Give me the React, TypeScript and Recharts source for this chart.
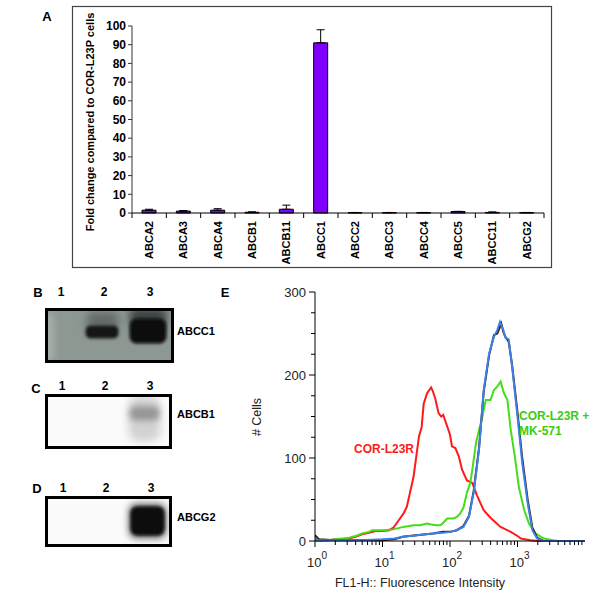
import React from 'react';
import { BarChart, Bar, XAxis, YAxis, ErrorBar, LineChart, Line } from 'recharts';

const FONT = '"Liberation Sans", Arial, sans-serif';

// Panel A - qPCR fold change
const genes = ['ABCA2', 'ABCA3', 'ABCA4', 'ABCB1', 'ABCB11', 'ABCC1', 'ABCC2', 'ABCC3', 'ABCC4', 'ABCC5', 'ABCC11', 'ABCG2'];
const foldChange = [1.5, 1.0, 1.5, 0.4, 2.0, 91, 0.2, 0.2, 0.2, 0.8, 0.3, 0.2];
const foldError = [0.5, 0.3, 0.8, 0.2, 2.2, 7, 0.1, 0.1, 0.1, 0.1, 0.3, 0.1];
const foldTicks = [0, 10, 20, 30, 40, 50, 60, 70, 80, 90, 100];

// Panel E - flow cytometry histograms (x = FL1-H intensity, y = # cells)
const corL23R = [
  { x: 1, y: 3 }, { x: 1.2, y: 1 }, { x: 1.6, y: 1 }, { x: 2, y: 2 }, { x: 2.5, y: 2 }, { x: 3.2, y: 3 },
  { x: 4, y: 5 }, { x: 5, y: 8 }, { x: 6.3, y: 10 }, { x: 7.9, y: 12 }, { x: 10, y: 12 }, { x: 12.6, y: 13 },
  { x: 14.5, y: 16 }, { x: 17.4, y: 25 }, { x: 20.4, y: 33 }, { x: 22.9, y: 41 }, { x: 28.8, y: 77 },
  { x: 34.7, y: 126 }, { x: 38, y: 137 }, { x: 40.7, y: 165 }, { x: 45.7, y: 178 }, { x: 52.5, y: 185 },
  { x: 56, y: 180 }, { x: 60.3, y: 172 }, { x: 67.6, y: 154 }, { x: 74, y: 150 }, { x: 79.4, y: 152 },
  { x: 89.1, y: 140 }, { x: 100, y: 128 }, { x: 107, y: 114 }, { x: 120, y: 112 }, { x: 135, y: 102 },
  { x: 151, y: 86 }, { x: 178, y: 73 }, { x: 214, y: 70 }, { x: 251, y: 55 }, { x: 316, y: 37 },
  { x: 398, y: 28 }, { x: 562, y: 17 }, { x: 794, y: 11 }, { x: 1000, y: 6 }, { x: 1122, y: 3 },
  { x: 1549, y: 1 }, { x: 2000, y: 0 }, { x: 10000, y: 0 },
];
const corL23RMK571 = [
  { x: 1, y: 0 }, { x: 1.6, y: 1 }, { x: 2, y: 2 }, { x: 3.2, y: 4 }, { x: 4, y: 6 }, { x: 5, y: 9 },
  { x: 6.3, y: 11 }, { x: 7.1, y: 13 }, { x: 10, y: 13 }, { x: 14.5, y: 14 }, { x: 20.4, y: 17 },
  { x: 28.8, y: 19 }, { x: 36, y: 19 }, { x: 45.7, y: 21 }, { x: 52.5, y: 20 }, { x: 63, y: 19 },
  { x: 72, y: 19 }, { x: 79.4, y: 22 }, { x: 91, y: 27 }, { x: 112, y: 27 }, { x: 126, y: 29 },
  { x: 141, y: 33 }, { x: 158, y: 40 }, { x: 178, y: 58 }, { x: 200, y: 70 }, { x: 214, y: 86 },
  { x: 245, y: 120 }, { x: 302, y: 150 }, { x: 339, y: 170 }, { x: 398, y: 170 }, { x: 447, y: 182 },
  { x: 501, y: 186 }, { x: 562, y: 192 }, { x: 631, y: 178 }, { x: 708, y: 170 }, { x: 794, y: 134 },
  { x: 912, y: 102 }, { x: 1047, y: 65 }, { x: 1259, y: 37 }, { x: 1479, y: 21 }, { x: 1862, y: 9 },
  { x: 2455, y: 3 }, { x: 3311, y: 1 }, { x: 4000, y: 0 }, { x: 10000, y: 0 },
];
const controlA = [
  { x: 1, y: 7 }, { x: 1.15, y: 2 }, { x: 2, y: 1 }, { x: 10, y: 1 }, { x: 15, y: 2 }, { x: 20, y: 5 },
  { x: 32, y: 7 }, { x: 56, y: 9 }, { x: 79, y: 11 }, { x: 100, y: 11 }, { x: 126, y: 13 }, { x: 158, y: 18 },
  { x: 191, y: 30 }, { x: 224, y: 60 }, { x: 269, y: 112 }, { x: 316, y: 180 }, { x: 380, y: 224 },
  { x: 447, y: 248 }, { x: 501, y: 250 }, { x: 537, y: 256 }, { x: 575, y: 262 }, { x: 617, y: 252 },
  { x: 661, y: 246 }, { x: 741, y: 240 }, { x: 832, y: 212 }, { x: 1000, y: 155 }, { x: 1175, y: 100 },
  { x: 1413, y: 50 }, { x: 1660, y: 16 }, { x: 1950, y: 4 }, { x: 2400, y: 0 }, { x: 10000, y: 0 },
];
const controlB = [
  { x: 1, y: 4 }, { x: 1.1, y: 1 }, { x: 2, y: 1 }, { x: 5, y: 1 }, { x: 10, y: 2 }, { x: 15, y: 3 },
  { x: 20, y: 5 }, { x: 32, y: 7 }, { x: 56, y: 9 }, { x: 79, y: 10 }, { x: 100, y: 11 }, { x: 126, y: 13 },
  { x: 158, y: 17 }, { x: 191, y: 29 }, { x: 224, y: 58 }, { x: 269, y: 110 }, { x: 316, y: 182 },
  { x: 380, y: 226 }, { x: 447, y: 246 }, { x: 501, y: 254 }, { x: 550, y: 264 }, { x: 617, y: 254 },
  { x: 661, y: 245 }, { x: 741, y: 243 }, { x: 832, y: 210 }, { x: 1000, y: 150 }, { x: 1175, y: 94 },
  { x: 1413, y: 46 }, { x: 1660, y: 13 }, { x: 1950, y: 3 }, { x: 2400, y: 0 }, { x: 10000, y: 0 },
];
const countTicks = [0, 25, 50, 75, 100, 125, 150, 175, 200, 225, 250, 275, 300];
const countLabels = [0, 100, 200, 300];
const intensityTicks = [
  1, 2, 3, 4, 5, 6, 7, 8, 9,
  10, 20, 30, 40, 50, 60, 70, 80, 90,
  100, 200, 300, 400, 500, 600, 700, 800, 900,
  1000, 2000, 3000, 4000, 5000, 6000, 7000, 8000, 9000,
];
const decadeTicks = [1, 10, 100, 1000];
const decadeExponents = ['0', '1', '2', '3'];

// plot A geometry
const A_PLOT_W = 412;
const BAND = A_PLOT_W / genes.length;

function GeneTick(props: any) {
  const { x, y, payload, index } = props;
  const ty = y + 8;
  return (
    <g>
      <line x1={x - BAND / 2} x2={x - BAND / 2} y1={y} y2={y + 5} stroke="#000" />
      {index === genes.length - 1 && <line x1={x + BAND / 2} x2={x + BAND / 2} y1={y} y2={y + 5} stroke="#000" />}
      <text
        x={x}
        y={ty}
        dy="0.36em"
        transform={`rotate(-90, ${x}, ${ty})`}
        textAnchor="end"
        fontFamily={FONT}
        fontWeight="bold"
        fontSize={11}
        fill="#000"
      >
        {payload.value}
      </text>
    </g>
  );
}

function CountTick(props: any) {
  const { x, y, payload } = props;
  const major = countLabels.includes(payload.value);
  return (
    <g>
      <line x1={x - (major ? 6 : 4)} x2={x} y1={y} y2={y} stroke="#000" />
      {major && (
        <text x={x - 9} y={y} dy="0.36em" textAnchor="end" fontFamily={FONT} fontSize={13} fill="#222">
          {payload.value}
        </text>
      )}
    </g>
  );
}

function LogTick(props: any) {
  const { x, y, payload } = props;
  const di = decadeTicks.indexOf(payload.value);
  const major = di >= 0;
  return (
    <g>
      <line x1={x} x2={x} y1={y} y2={y + (major ? 6 : 4)} stroke="#000" />
      {major && (
        <text x={x - 8} y={y + 26} fontFamily={FONT} fontSize={13} fill="#222">
          10
          <tspan dy={-8} fontSize={10}>{decadeExponents[di]}</tspan>
        </text>
      )}
    </g>
  );
}

function Blot({ id, left, top, width, height, bg, bands }: any) {
  return (
    <g transform={`translate(${left}, ${top})`}>
      <defs>
        {bands.map((b: any, i: number) => (
          <filter key={i} id={`${id}-f${i}`} x="-50%" y="-50%" width="200%" height="200%">
            <feGaussianBlur stdDeviation={b.blur} />
          </filter>
        ))}
        <clipPath id={`${id}-clip`}>
          <rect x={0} y={0} width={width} height={height} />
        </clipPath>
      </defs>
      <rect x={0} y={0} width={width} height={height} fill={bg} />
      <g clipPath={`url(#${id}-clip)`}>
        {bands.map((b: any, i: number) => (
          <rect key={i} x={b.x} y={b.y} width={b.w} height={b.h} rx={b.r} ry={b.r} fill={b.color} filter={`url(#${id}-f${i})`} />
        ))}
      </g>
      <rect x={0} y={0} width={width} height={height} fill="none" stroke="#000" strokeWidth={3} />
    </g>
  );
}

const blotB = [
  { x: -4, y: 4, w: 12, h: 48, r: 6, color: '#a5ada9', blur: 3 },
  { x: 40, y: 2, w: 32, h: 20, r: 6, color: '#646c68', blur: 4 },
  { x: 39, y: 16, w: 33, h: 13, r: 5, color: '#141414', blur: 1.8 },
  { x: 83, y: -2, w: 37, h: 18, r: 6, color: '#3c4244', blur: 4 },
  { x: 83, y: 9, w: 37, h: 25, r: 7, color: '#080808', blur: 1.8 },
];
const blotC = [
  { x: 82, y: 0, w: 32, h: 46, r: 10, color: '#d2d2d2', blur: 4 },
  { x: 83, y: 11, w: 30, h: 14, r: 6, color: '#959595', blur: 3 },
];
const blotD = [
  { x: 82, y: 6, w: 38, h: 35, r: 8, color: '#6a6a6a', blur: 3.5 },
  { x: 84, y: 9, w: 34, h: 29, r: 7, color: '#070707', blur: 1.8 },
];

const labelStyle = { fontFamily: FONT, fontWeight: 'bold' as const };

export default function App() {
  const barData = genes.map((g, i) => ({ gene: g, fold: foldChange[i], err: [0, foldError[i]] }));

  return (
    <div style={{ position: 'absolute', left: 0, top: 0, width: 600, height: 609, background: '#fff' }}>
      <svg width={600} height={609} style={{ position: 'absolute', left: 0, top: 0 }}>
        {/* panel A frame */}
        <rect x={72.5} y={6.5} width={479} height={261} fill="none" stroke="#444" strokeWidth={1.2} />
        <text x={47} y={16} dominantBaseline="central" textAnchor="middle" fontSize={13} {...labelStyle}>A</text>
        <text
          x={90}
          y={122}
          dominantBaseline="central"
          textAnchor="middle"
          fontSize={11}
          transform="rotate(-90, 90, 122)"
          {...labelStyle}
        >
          Fold change compared to COR-L23P cells
        </text>

        {/* blots */}
        <Blot id="b" left={46.5} top={309.5} width={126} height={52} bg="#8e9893" bands={blotB} />
        <Blot id="c" left={46.5} top={395.5} width={124} height={52} bg="#fbfbfb" bands={blotC} />
        <Blot id="d" left={46.5} top={497.5} width={124} height={48} bg="#fbfbfb" bands={blotD} />

        {[
          ['B', 38, 292], ['C', 36, 388], ['D', 37, 488], ['E', 225, 292],
        ].map(([t, x, y]) => (
          <text key={t as string} x={x as number} y={y as number} dominantBaseline="central" textAnchor="middle" fontSize={13} {...labelStyle}>
            {t}
          </text>
        ))}
        {[
          ['1', 61, 292], ['2', 104, 292], ['3', 150, 292],
          ['1', 62, 386], ['2', 105, 386], ['3', 150, 386],
          ['1', 63, 488], ['2', 106, 488], ['3', 151, 488],
        ].map(([t, x, y], i) => (
          <text key={i} x={x as number} y={y as number} dominantBaseline="central" textAnchor="middle" fontSize={12} {...labelStyle}>
            {t}
          </text>
        ))}
        <text x={177} y={331} dominantBaseline="central" fontSize={11} {...labelStyle}>ABCC1</text>
        <text x={177} y={414} dominantBaseline="central" fontSize={11} {...labelStyle}>ABCB1</text>
        <text x={177} y={517} dominantBaseline="central" fontSize={11} {...labelStyle}>ABCG2</text>

        {/* panel E axis titles */}
        <text
          x={257}
          y={417}
          dominantBaseline="central"
          textAnchor="middle"
          fontSize={12.5}
          fontFamily={FONT}
          fill="#222"
          transform="rotate(-90, 257, 417)"
        >
          # Cells
        </text>
        <text x={420} y={583} dominantBaseline="central" textAnchor="middle" fontSize={12.5} fontFamily={FONT} fill="#222">
          FL1-H:: Fluorescence Intensity
        </text>
      </svg>

      <div style={{ position: 'absolute', left: 72, top: 6 }}>
        <BarChart width={480} height={262} data={barData} margin={{ top: 20, right: 8, bottom: 5, left: 20 }}>
          <XAxis
            dataKey="gene"
            interval={0}
            height={50}
            tickSize={0}
            tickMargin={0}
            tickLine={false}
            axisLine={{ stroke: '#000' }}
            tick={(p: any) => <GeneTick {...p} />}
          />
          <XAxis xAxisId="top" orientation="top" dataKey="gene" height={0} tick={false} tickLine={false} axisLine={{ stroke: '#555' }} />
          <YAxis
            domain={[0, 100]}
            ticks={foldTicks}
            interval={0}
            width={40}
            tickSize={4}
            tickMargin={2}
            axisLine={{ stroke: '#333' }}
            tickLine={{ stroke: '#333' }}
            tick={{ fill: '#000', fontSize: 12, fontWeight: 'bold', fontFamily: FONT }}
          />
          <YAxis yAxisId="right" orientation="right" domain={[0, 100]} width={0} tick={false} tickLine={false} axisLine={{ stroke: '#555' }} />
          <Bar dataKey="fold" fill="#8000ff" stroke="#000" strokeWidth={1} barSize={14} isAnimationActive={false}>
            <ErrorBar dataKey="err" width={4} stroke="#000" strokeWidth={1} direction="y" />
          </Bar>
        </BarChart>
      </div>

      <div style={{ position: 'absolute', left: 255, top: 280 }}>
        <LineChart width={340} height={320} margin={{ top: 12, right: 10, bottom: 29, left: 0 }}>
          <XAxis
            type="number"
            dataKey="x"
            scale="log"
            domain={[1, 10000]}
            allowDataOverflow
            ticks={intensityTicks}
            interval={0}
            height={30}
            tickSize={0}
            tickMargin={0}
            tickLine={false}
            axisLine={{ stroke: '#000' }}
            tick={(p: any) => <LogTick {...p} />}
          />
          <XAxis
            xAxisId="top"
            orientation="top"
            type="number"
            dataKey="x"
            scale="log"
            domain={[1, 10000]}
            allowDataOverflow
            height={0}
            tick={false}
            tickLine={false}
            axisLine={{ stroke: '#000' }}
          />
          <YAxis
            type="number"
            domain={[0, 300]}
            ticks={countTicks}
            interval={0}
            width={60}
            tickSize={0}
            tickMargin={0}
            tickLine={false}
            axisLine={{ stroke: '#000' }}
            tick={(p: any) => <CountTick {...p} />}
          />
          <YAxis yAxisId="right" orientation="right" domain={[0, 300]} width={0} tick={false} tickLine={false} axisLine={{ stroke: '#000' }} />
          <Line data={corL23R} dataKey="y" stroke="#ff1a1a" strokeWidth={2} dot={false} isAnimationActive={false} />
          <Line data={corL23RMK571} dataKey="y" stroke="#44dd1a" strokeWidth={2} dot={false} isAnimationActive={false} />
          <Line data={controlA} dataKey="y" stroke="#3a1a08" strokeWidth={2} dot={false} isAnimationActive={false} />
          <Line data={controlB} dataKey="y" stroke="#3d80e8" strokeWidth={2} dot={false} isAnimationActive={false} />
        </LineChart>
      </div>

      <svg width={600} height={609} style={{ position: 'absolute', left: 0, top: 0, pointerEvents: 'none' }}>
        <text x={384} y={449} dominantBaseline="central" textAnchor="middle" fontSize={12} fill="#ff1a1a" {...labelStyle}>
          COR-L23R
        </text>
        <text x={519} y={416} dominantBaseline="central" fontSize={12} fill="#3ccc10" {...labelStyle}>COR-L23R +</text>
        <text x={519} y={431} dominantBaseline="central" fontSize={12} fill="#3ccc10" {...labelStyle}>MK-571</text>
      </svg>
    </div>
  );
}
